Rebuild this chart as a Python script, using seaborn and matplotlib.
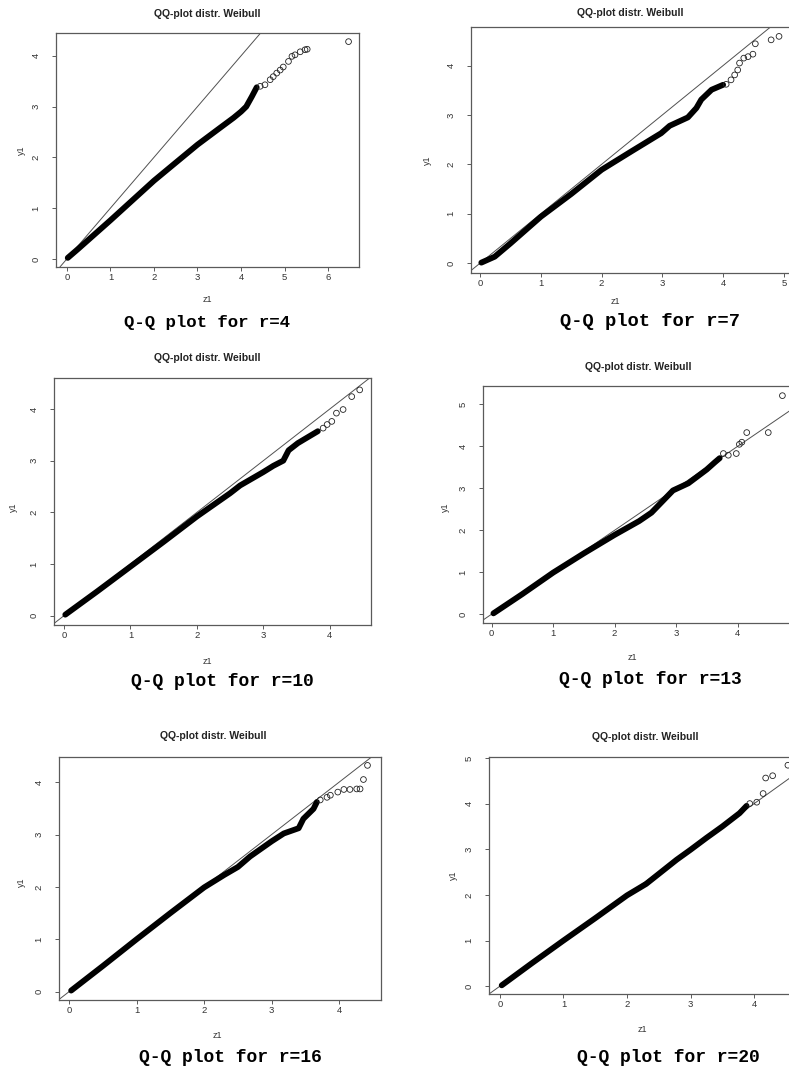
import matplotlib
matplotlib.use("Agg")
import matplotlib.pyplot as plt
import seaborn as sns
import numpy as np

# ---------------- data ----------------
r_values = [4, 7, 10, 13, 16, 20]

# r = 4
z_dense_4 = [0.02, 0.25, 0.5, 1.0, 1.5, 2.0, 2.45, 3.0, 3.5, 3.83, 4.0, 4.12, 4.25, 4.36]
y_dense_4 = [0.02, 0.19, 0.38, 0.76, 1.15, 1.54, 1.86, 2.25, 2.57, 2.78, 2.90, 3.00, 3.20, 3.38]
z_tail_4 = [4.44, 4.55, 4.67, 4.74, 4.82, 4.90, 4.97, 5.09, 5.17, 5.24, 5.36, 5.47, 5.52, 6.47]
y_tail_4 = [3.40, 3.43, 3.53, 3.59, 3.66, 3.72, 3.78, 3.89, 3.99, 4.02, 4.08, 4.12, 4.13, 4.28]

# r = 7
z_dense_7 = [0.02, 0.24, 0.5, 1.0, 1.5, 2.0, 2.5, 2.98, 3.12, 3.42, 3.56, 3.64, 3.81, 4.0]
y_dense_7 = [0.01, 0.13, 0.40, 0.94, 1.40, 1.89, 2.27, 2.63, 2.78, 2.95, 3.14, 3.31, 3.51, 3.61]
z_tail_7 = [4.05, 4.13, 4.19, 4.24, 4.27, 4.34, 4.41, 4.49, 4.53, 4.79, 4.92]
y_tail_7 = [3.62, 3.71, 3.81, 3.91, 4.05, 4.15, 4.18, 4.23, 4.44, 4.52, 4.59]

# r = 10
z_dense_10 = [0.02, 0.5, 1.0, 1.5, 2.0, 2.5, 2.65, 3.0, 3.15, 3.3, 3.38, 3.52, 3.65, 3.82]
y_dense_10 = [0.02, 0.47, 0.95, 1.43, 1.92, 2.37, 2.52, 2.78, 2.90, 3.00, 3.20, 3.34, 3.44, 3.57]
z_tail_10 = [3.90, 3.96, 4.03, 4.10, 4.20, 4.33, 4.45]
y_tail_10 = [3.63, 3.70, 3.76, 3.92, 3.99, 4.24, 4.37]

# r = 13
z_dense_13 = [0.03, 0.5, 1.0, 1.5, 2.0, 2.4, 2.6, 2.95, 3.2, 3.5, 3.63, 3.71]
y_dense_13 = [0.02, 0.48, 0.99, 1.45, 1.89, 2.22, 2.42, 2.95, 3.12, 3.45, 3.62, 3.72]
z_tail_13 = [3.77, 3.85, 3.98, 4.03, 4.07, 4.15, 4.50, 4.73]
y_tail_13 = [3.83, 3.79, 3.83, 4.05, 4.10, 4.33, 4.33, 5.21]

# r = 16
z_dense_16 = [0.03, 0.5, 1.0, 1.5, 2.0, 2.3, 2.5, 2.68, 3.0, 3.18, 3.4, 3.47, 3.62, 3.67]
y_dense_16 = [0.02, 0.49, 1.00, 1.50, 1.99, 2.23, 2.38, 2.58, 2.87, 3.02, 3.12, 3.30, 3.49, 3.62]
z_tail_16 = [3.72, 3.82, 3.87, 3.98, 4.07, 4.16, 4.26, 4.31, 4.36, 4.42]
y_tail_16 = [3.66, 3.71, 3.75, 3.81, 3.86, 3.86, 3.87, 3.87, 4.05, 4.32]

# r = 20
z_dense_20 = [0.03, 0.5, 1.0, 1.5, 2.0, 2.3, 2.78, 3.0, 3.25, 3.5, 3.77, 3.88]
y_dense_20 = [0.02, 0.50, 1.00, 1.49, 1.99, 2.24, 2.77, 2.99, 3.25, 3.50, 3.79, 3.95]
z_tail_20 = [3.93, 4.04, 4.14, 4.18, 4.29, 4.53]
y_tail_20 = [4.00, 4.03, 4.22, 4.56, 4.61, 4.84]

panel_title = "QQ-plot distr. Weibull"
x_label = "z1"
y_label = "y1"

dense_z = [z_dense_4, z_dense_7, z_dense_10, z_dense_13, z_dense_16, z_dense_20]
dense_y = [y_dense_4, y_dense_7, y_dense_10, y_dense_13, y_dense_16, y_dense_20]
tail_z = [z_tail_4, z_tail_7, z_tail_10, z_tail_13, z_tail_16, z_tail_20]
tail_y = [y_tail_4, y_tail_7, y_tail_10, y_tail_13, y_tail_16, y_tail_20]

x_ticks = [[0, 1, 2, 3, 4, 5, 6], [0, 1, 2, 3, 4, 5], [0, 1, 2, 3, 4],
           [0, 1, 2, 3, 4], [0, 1, 2, 3, 4], [0, 1, 2, 3, 4]]
y_ticks = [[0, 1, 2, 3, 4], [0, 1, 2, 3, 4], [0, 1, 2, 3, 4],
           [0, 1, 2, 3, 4, 5], [0, 1, 2, 3, 4], [0, 1, 2, 3, 4, 5]]

# ---------------- layout (pixels) ----------------
W, H = 789, 1072
sns.set_theme(style="ticks")
plt.rcParams["font.family"] = ["Liberation Sans", "DejaVu Sans"]

fig = plt.figure(figsize=(W / 100, H / 100), dpi=100)
fig.patch.set_facecolor("white")

# left, top, width, height in px
boxes = [(56, 33, 303, 234), (471, 27, 322, 246), (54, 378, 317, 247),
         (483, 386, 316, 237), (59, 757, 322, 243), (489, 757, 311, 237)]
xlims = [(-0.25, 6.71), (-0.15, 5.15), (-0.15, 4.62), (-0.14, 5.0), (-0.15, 4.62), (-0.17, 4.72)]
ylims = [(-0.16, 4.45), (-0.20, 4.78), (-0.18, 4.60), (-0.21, 5.44), (-0.16, 4.48), (-0.17, 5.02)]
title_pos = [(207, 14), (630, 13), (207, 358), (638, 367), (213, 736), (645, 737)]
xlab_pos = [(207, 300), (615, 302), (207, 662), (632, 658), (217, 1036), (642, 1029)]
ylab_pos = [(21, 150), (427, 160), (13, 507), (445, 507), (21, 882), (453, 875)]
cap_pos = [(207, 322), (650, 322), (222, 682), (650, 680), (230, 1058), (668, 1057)]
cap_size = [12.5, 13.5, 13, 13, 13, 13]


def fx(px):
    return px / W


def fy(py):
    return 1 - py / H


grey = "#5a5a5a"
for i in range(6):
    l, t, w, h = boxes[i]
    ax = fig.add_axes([fx(l), fy(t + h), w / W, h / H])
    ax.set_facecolor("white")
    ax.axline((0, 0), (1, 1), color="#505050", lw=0.7, zorder=1)
    sns.lineplot(x=dense_z[i], y=dense_y[i], sort=False, estimator=None,
                 color="black", lw=4.2, solid_capstyle="round",
                 solid_joinstyle="round", ax=ax, zorder=3)
    sns.scatterplot(x=tail_z[i], y=tail_y[i], marker="o", s=17,
                    facecolors="none", edgecolor="#222222", linewidth=0.6,
                    ax=ax, zorder=3)
    ax.set_xlim(*xlims[i])
    ax.set_ylim(*ylims[i])
    ax.set_xticks(x_ticks[i])
    ax.set_yticks(y_ticks[i])
    ax.set_xlabel("")
    ax.set_ylabel("")
    for sp in ax.spines.values():
        sp.set_visible(True)
        sp.set_color(grey)
        sp.set_linewidth(0.9)
    ax.tick_params(axis="both", direction="out", length=3, width=0.7,
                   color=grey, labelcolor="#333333", labelsize=6.8)
    ax.tick_params(axis="x", pad=1.5)
    ax.tick_params(axis="y", pad=8)
    plt.setp(ax.get_yticklabels(), rotation=90, va="center")

    tx, ty = title_pos[i]
    fig.text(fx(tx), fy(ty), panel_title, ha="center", va="center",
             fontsize=7.5, fontweight="bold", color="#222222")
    xx, xy = xlab_pos[i]
    fig.text(fx(xx), fy(xy), x_label, ha="center", va="center",
             fontsize=6.5, color="#333333")
    yx, yy = ylab_pos[i]
    fig.text(fx(yx), fy(yy), y_label, ha="center", va="center",
             fontsize=6.5, color="#333333", rotation=90)
    cx, cy = cap_pos[i]
    fig.text(fx(cx), fy(cy), f"Q-Q plot for r={r_values[i]}", ha="center",
             va="center", fontsize=cap_size[i], fontweight="bold", color="black",
             family=["Liberation Mono", "DejaVu Sans Mono"])

fig.savefig("out.png", dpi=100, facecolor="white")
